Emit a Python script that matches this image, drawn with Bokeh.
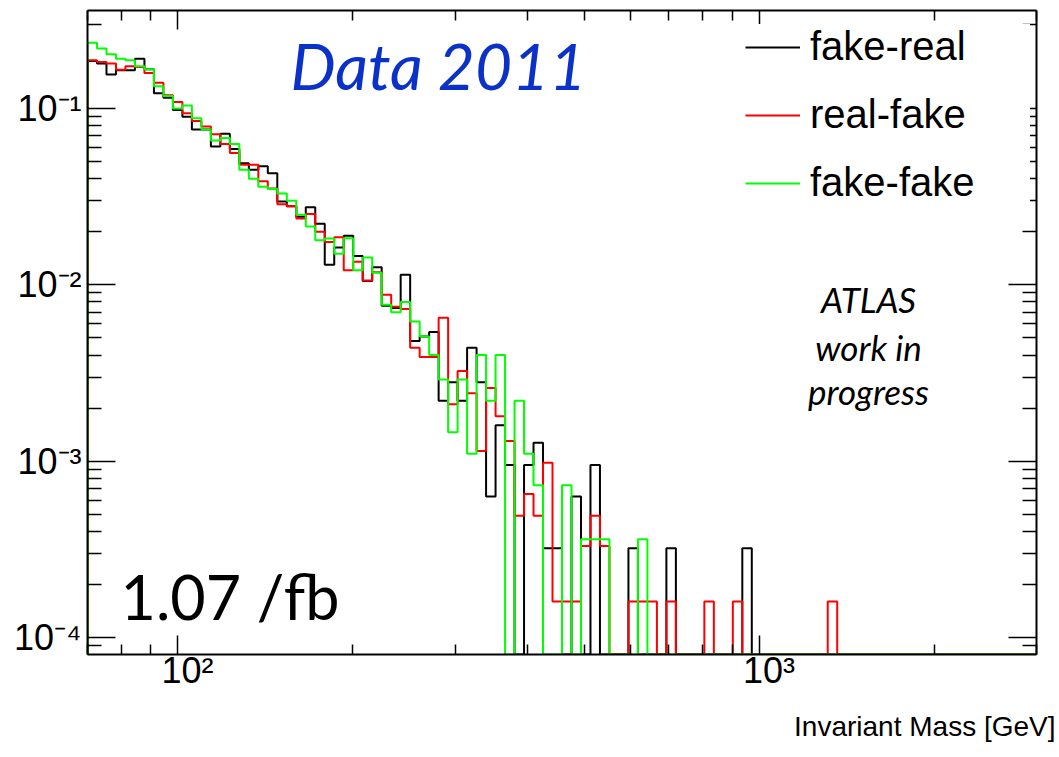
import numpy as np
from bokeh.plotting import figure
from bokeh.models import (FixedTicker, LogTickFormatter, LogAxis, Label, Legend,
                          LegendItem, Range1d, Title)
from bokeh.embed import file_html
from bokeh.resources import INLINE

# ---- binning: 100 log-spaced bins in invariant mass ----
mass_lo, mass_hi, n_bins = 70.0, 3000.0, 100
y_lo, y_hi = 8e-5, 0.36

# normalised yields per bin (0 = empty bin)
fake_real = [
    0.186, 0.180, 0.156, 0.165, 0.165, 0.192, 0.167, 0.122, 0.115, 0.098,
    0.090, 0.076, 0.076, 0.061, 0.072, 0.059, 0.049, 0.045, 0.047, 0.043,
    0.0297, 0.0279, 0.0243, 0.0276, 0.0222, 0.0130, 0.0163, 0.0190, 0.0146, 0.0105,
    0.0126, 0.0076, 0.0074, 0.0114, 0.0048, 0.0051, 0.0054, 0.0022, 0.0028, 0.0022,
    0.0044, 0.0028, 0.00063, 0.0016, 0.00095, 0, 0.00095, 0.00127, 0.00032, 0.00032,
    0, 0.00063, 0, 0.00095, 0, 0, 0, 0.00032, 0, 0,
    0, 0.00032, 0, 0, 0, 0, 0, 0, 0, 0.00032,
    0, 0, 0, 0, 0, 0, 0, 0, 0, 0,
    0, 0, 0, 0, 0, 0, 0, 0, 0, 0,
    0, 0, 0, 0, 0, 0, 0, 0, 0, 0,
]
real_fake = [
    0.188, 0.184, 0.180, 0.166, 0.174, 0.172, 0.159, 0.140, 0.119, 0.109,
    0.094, 0.085, 0.079, 0.0715, 0.063, 0.056, 0.048, 0.048, 0.0387, 0.0352,
    0.0287, 0.0279, 0.0238, 0.0252, 0.0200, 0.0175, 0.0186, 0.0121, 0.0135, 0.0106,
    0.0118, 0.0088, 0.0075, 0.0073, 0.0044, 0.0039, 0.0039, 0.0065, 0.0021, 0.00325,
    0.00243, 0.00114, 0.0026, 0.0018, 0.0013, 0.00049, 0.00065, 0.00049, 0.00098, 0.00016,
    0.00016, 0.00016, 0.00033, 0.00049, 0.00033, 0, 0, 0.00016, 0.00016, 0.00016,
    0, 0.00016, 0, 0, 0, 0.00016, 0, 0, 0.00016, 0,
    0, 0, 0, 0, 0, 0, 0, 0, 0.00016, 0,
    0, 0, 0, 0, 0, 0, 0, 0, 0, 0,
    0, 0, 0, 0, 0, 0, 0, 0, 0, 0,
]
fake_fake = [
    0.236, 0.219, 0.203, 0.192, 0.188, 0.174, 0.167, 0.134, 0.118, 0.100,
    0.104, 0.088, 0.076, 0.066, 0.068, 0.063, 0.045, 0.040, 0.036, 0.035,
    0.033, 0.030, 0.025, 0.0214, 0.0179, 0.0183, 0.0150, 0.0184, 0.0121, 0.0143,
    0.0117, 0.0077, 0.0070, 0.0080, 0.0062, 0.0051, 0.0040, 0.0029, 0.00146, 0.0029,
    0.0011, 0.0040, 0.0022, 0.0040, 0, 0.0022, 0.0011, 0.00073, 0, 0,
    0.00073, 0, 0.00036, 0.00036, 0.00036, 0, 0, 0, 0.00036, 0,
    0, 0, 0, 0, 0, 0, 0, 0, 0, 0,
    0, 0, 0, 0, 0, 0, 0, 0, 0, 0,
    0, 0, 0, 0, 0, 0, 0, 0, 0, 0,
    0, 0, 0, 0, 0, 0, 0, 0, 0, 0,
]

series_labels = ["fake-real", "real-fake", "fake-fake"]
series_colors = ["#000000", "#ff0000", "#00ff00"]

x_title = "Invariant Mass [GeV]"
x_major = [100, 1000]
x_minor = [70, 80, 90] + [k * 100 for k in range(2, 10)] + [2000, 3000]
x_tick_text = {100: "\u00a0\u00a010\u00b2", 1000: "\u00a0\u00a010\u00b3"}
y_major = [1e-4, 1e-3, 1e-2, 1e-1]
y_minor = [9e-5] + [k * 10.0 ** e for e in (-4, -3, -2) for k in range(2, 10)] + [0.3]
y_tick_text = {0.1: "10\u207b\u00b9", 0.01: "10\u207b\u00b2",
               0.001: "10\u207b\u00b3", 0.0001: "10\u207b\u2074"}

edges = np.logspace(np.log10(mass_lo), np.log10(mass_hi), n_bins + 1)


def step_path(vals):
    """Histogram outline; empty bins sit on the lower edge of the frame."""
    v = np.maximum(np.asarray(vals, dtype=float), y_lo)
    xs, ys = [edges[0]], [y_lo]
    for i, val in enumerate(v):
        xs += [edges[i], edges[i + 1]]
        ys += [val, val]
    xs.append(edges[-1])
    ys.append(y_lo)
    return xs, ys


W, H = 1059, 757
p = figure(width=W, height=H, x_axis_type="log", y_axis_type="log",
           x_range=Range1d(mass_lo, mass_hi), y_range=Range1d(y_lo, y_hi),
           output_backend="svg", toolbar_location=None,
           min_border_left=87, min_border_right=23,
           min_border_top=10, min_border_bottom=103)
p.grid.visible = False
p.outline_line_color = None          # frame is drawn by the four axis lines
p.background_fill_color = "white"
p.border_fill_color = "white"

FONT = "Liberation Sans"


def style_axis(ax, ticks, minor, tick_in, minor_in, labels):
    ax.ticker = FixedTicker(ticks=ticks, minor_ticks=minor)
    ax.formatter = LogTickFormatter()
    ax.axis_line_width = 2
    ax.axis_line_color = "black"
    ax.major_tick_in = tick_in
    ax.major_tick_out = 0
    ax.minor_tick_in = minor_in
    ax.minor_tick_out = 0
    ax.major_tick_line_width = 1.5
    ax.minor_tick_line_width = 1.5
    if labels:
        ax.major_label_overrides = labels
        ax.major_label_text_font = FONT
        ax.major_label_text_font_size = "36px"
        ax.major_label_text_color = "black"
    else:
        # mirrored frame side: ticks only
        ax.major_label_text_font_size = "1px"
        ax.major_label_text_color = None
        ax.major_label_standoff = 0


xax = p.xaxis[0]
style_axis(xax, x_major, x_minor, 19, 10, x_tick_text)
xax.major_label_standoff = -5
style_axis(p.yaxis[0], y_major, y_minor, 28, 14, y_tick_text)
p.yaxis[0].major_label_standoff = 6

top_ax = LogAxis()
style_axis(top_ax, x_major, x_minor, 19, 10, None)
p.add_layout(top_ax, "above")
right_ax = LogAxis()
style_axis(right_ax, y_major, y_minor, 28, 14, None)
p.add_layout(right_ax, "right")

# x-axis title, right-aligned at the lower right of the canvas
p.add_layout(Title(text=x_title, align="right", offset=-19, standoff=30,
                   text_font=FONT, text_font_size="28px",
                   text_font_style="normal", text_color="black"), "below")

renderers = []
for vals, col in zip([fake_real, real_fake, fake_fake], series_colors):
    xs, ys = step_path(vals)
    renderers.append(p.line(xs, ys, line_color=col, line_width=2))

legend = Legend(
    items=[LegendItem(label=lab, renderers=[r]) for lab, r in zip(series_labels, renderers)],
    location=(658, 449), orientation="vertical",
    label_text_font=FONT, label_text_font_size="40px", label_text_color="black",
    glyph_width=55, glyph_height=44, label_height=44, label_width=220,
    spacing=23, padding=17, margin=0, label_standoff=10,
    border_line_color=None, background_fill_color="white", background_fill_alpha=1.0,
)
p.add_layout(legend)

# frame-relative text placement (screen px from the frame's lower-left corner)
p.add_layout(Label(x=203, y=589, x_units="screen", y_units="screen",
                   text="Data 2011", text_font="Lato", text_font_style="italic",
                   text_font_size="64px", text_color="#0a32c8",
                   text_baseline="alphabetic"))
p.add_layout(Label(x=33, y=58, x_units="screen", y_units="screen",
                   text="1.07 /fb", text_font="Lato", text_font_size="61px",
                   text_color="black", text_baseline="alphabetic"))
for txt, yy in [("ATLAS", 356), ("work in", 308), ("progress", 264)]:
    p.add_layout(Label(x=781, y=yy, x_units="screen", y_units="screen",
                       text=txt, text_font="Lato", text_font_style="italic",
                       text_font_size="35px", text_align="center", text_color="black",
                       text_baseline="alphabetic"))

open("out.html", "w").write(file_html(p, INLINE))
